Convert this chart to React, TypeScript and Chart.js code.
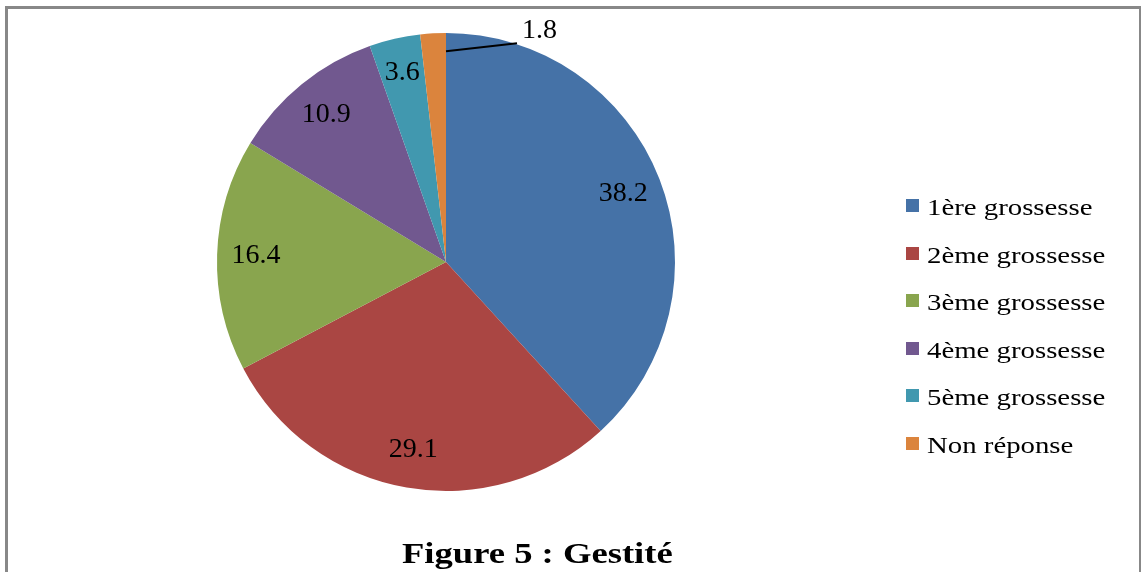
import React, { useEffect, useRef } from "react";
import { Chart, registerables } from "chart.js";

Chart.register(...registerables);

const categories = [
  "1ère grossesse",
  "2ème grossesse",
  "3ème grossesse",
  "4ème grossesse",
  "5ème grossesse",
  "Non réponse",
];
const values = [38.2, 29.1, 16.4, 10.9, 3.6, 1.8];
const colors = ["#4572A7", "#AA4643", "#89A54E", "#71588F", "#4198AF", "#DB843D"];
const titleText = "Figure 5 : Gestité";

const W = 1141;
const H = 572;
const FONT = '"Liberation Serif", "DejaVu Serif", serif';

const labelPlugin = {
  id: "sliceLabels",
  afterDatasetsDraw(chart: any) {
    const ctx = chart.ctx;
    const meta = chart.getDatasetMeta(0);
    const data = chart.data.datasets[0].data as number[];
    ctx.save();
    ctx.fillStyle = "#000";
    ctx.font = `28px ${FONT}`;
    ctx.textBaseline = "middle";
    meta.data.forEach((arc: any, i: number) => {
      const { x, y, startAngle, endAngle, outerRadius } = arc.getProps(
        ["x", "y", "startAngle", "endAngle", "outerRadius"],
        true
      );
      const text = String(data[i]);
      if (data[i] < 3) {
        const a = endAngle;
        const sx = x + Math.cos(a) * outerRadius * 0.92;
        const sy = y + Math.sin(a) * outerRadius * 0.92;
        const ex = sx + 71;
        const ey = sy - 8;
        ctx.strokeStyle = "#000";
        ctx.lineWidth = 2;
        ctx.beginPath();
        ctx.moveTo(sx, sy);
        ctx.lineTo(ex, ey);
        ctx.stroke();
        ctx.textAlign = "left";
        ctx.fillText(text, ex + 5, ey - 13);
      } else {
        const mid = (startAngle + endAngle) / 2;
        const f = data[i] < 5 ? 0.85 : 0.83;
        const lx = x + Math.cos(mid) * outerRadius * f;
        const ly = y + Math.sin(mid) * outerRadius * f;
        ctx.textAlign = "center";
        ctx.fillText(text, lx, ly);
      }
    });
    ctx.restore();
  },
};

export default function App() {
  const canvasRef = useRef<HTMLCanvasElement | null>(null);

  useEffect(() => {
    if (!canvasRef.current) return;
    const chart = new Chart(canvasRef.current, {
      type: "pie",
      data: {
        labels: categories,
        datasets: [
          {
            data: values,
            backgroundColor: colors,
            borderWidth: 0,
            hoverOffset: 0,
            offset: 0,
          },
        ],
      },
      options: {
        responsive: false,
        animation: false,
        events: [],
        layout: { padding: { left: 217, right: W - 675, top: 33, bottom: H - 491 } },
        plugins: {
          legend: { display: false },
          title: { display: false },
          tooltip: { enabled: false },
        },
      },
      plugins: [labelPlugin],
    });
    return () => chart.destroy();
  }, []);

  return (
    <div
      style={{
        position: "absolute",
        left: 0,
        top: 0,
        width: W,
        height: H,
        background: "#fff",
        overflow: "hidden",
        fontFamily: FONT,
      }}
    >
      <div
        style={{
          position: "absolute",
          left: 5,
          top: 6,
          width: W - 5 - 3 - 2,
          height: H,
          borderLeft: "3px solid #888",
          borderTop: "3px solid #888",
          borderRight: "2px solid #888",
        }}
      />
      <canvas
        ref={canvasRef}
        width={W}
        height={H}
        style={{ position: "absolute", left: 0, top: 0, width: W, height: H }}
      />
      {categories.map((c, i) => {
        const cy = 207 + i * 47.6;
        return (
          <React.Fragment key={c}>
            <div
              style={{
                position: "absolute",
                left: 906,
                top: Math.round(cy - 8),
                width: 13,
                height: 13,
                background: colors[i],
              }}
            />
            <div
              style={{
                position: "absolute",
                left: 927,
                top: Math.round(cy - 12),
                fontSize: 24,
                lineHeight: "24px",
                whiteSpace: "nowrap",
                color: "#000",
                transform: "scaleX(1.2)",
                transformOrigin: "left center",
              }}
            >
              {c}
            </div>
          </React.Fragment>
        );
      })}
      <div
        style={{
          position: "absolute",
          left: 402,
          top: 538,
          fontSize: 30,
          lineHeight: "30px",
          fontWeight: "bold",
          whiteSpace: "nowrap",
          color: "#000",
          transform: "scaleX(1.22)",
          transformOrigin: "left center",
        }}
      >
        {titleText}
      </div>
    </div>
  );
}
